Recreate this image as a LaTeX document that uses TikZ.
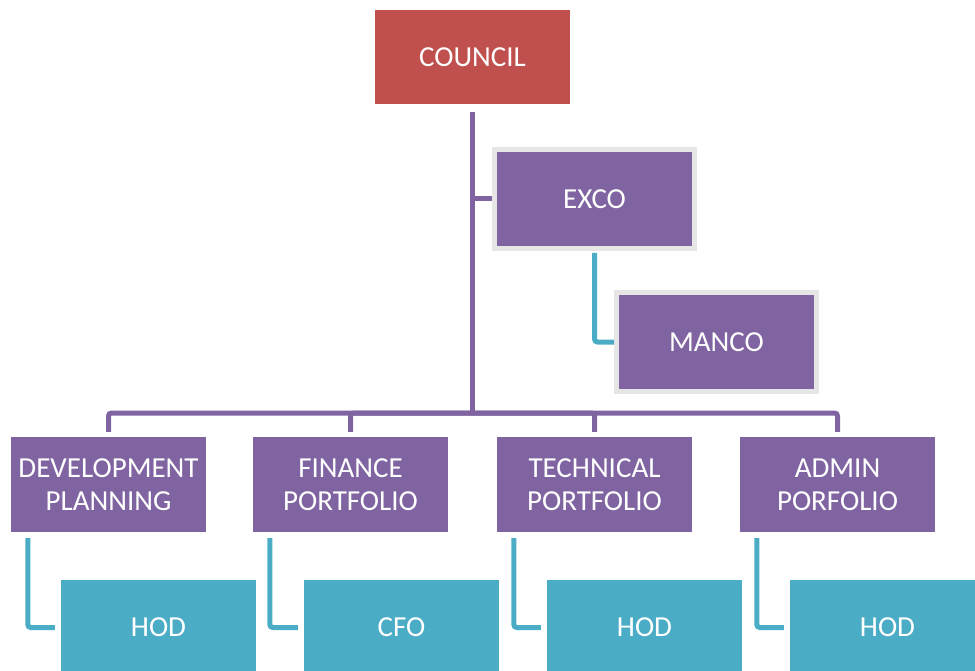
\documentclass[tikz,border=0pt]{standalone}
\usepackage{fontspec}
\setmainfont{Carlito}
\usetikzlibrary{positioning,calc}
\definecolor{cCouncil}{HTML}{C0504D}
\definecolor{cPortfolio}{HTML}{8064A2}
\definecolor{cStaff}{HTML}{4BACC6}
\definecolor{cFrame}{HTML}{E6E6E6}

\tikzset{
  unitbox/.style={fill=cPortfolio,text=white,align=center,inner sep=0pt,
                  minimum width=195,minimum height=95,
                  font=\fontsize{29}{33}\selectfont},
  framedbox/.style={unitbox,draw=cFrame,line width=5,minimum width=200,minimum height=99},
  staffbox/.style={unitbox,fill=cStaff},
  linkline/.style={draw=cPortfolio,line width=5,rounded corners=3},
  stafflink/.style={draw=cStaff,line width=5,rounded corners=3}
}

\begin{document}
\begin{tikzpicture}[x=1pt,y=-1pt]
  \useasboundingbox (0,0) rectangle (975,671);
  \clip (0,0) rectangle (975,671);

  % top of the chart
  \node[unitbox,fill=cCouncil,minimum height=94] (council) at (472.5,57) {COUNCIL};
  \node[framedbox] (exco) at (594.5,199) {EXCO};
  \node[framedbox] (manco) at (716.5,342) {MANCO};
  \coordinate (bus) at (472,413);

  % portfolios
  \node[unitbox] (dev) at (108.5,484.5) {DEVELOPMENT\\PLANNING};
  \node[unitbox] (fin) at (350.5,484.5) {FINANCE\\PORTFOLIO};
  \node[unitbox] (tech) at (594.5,484.5) {TECHNICAL\\PORTFOLIO};
  \node[unitbox] (admin) at (837.5,484.5) {ADMIN\\PORFOLIO};

  % staff under each portfolio
  \node[staffbox] (hoddev) at (158.5,627.5) {HOD};
  \node[staffbox] (cfo) at (401.5,627.5) {CFO};
  \node[staffbox] (hodtech) at (644.5,627.5) {HOD};
  \node[staffbox] (hodadmin) at (887.5,627.5) {HOD};

  % trunk, side branch and bus
  \draw[linkline,shorten <=8] (council) -- (council |- bus);
  \draw[linkline] (exco.west) -- (exco.west -| council);
  \foreach \unit in {dev,fin,tech,admin}
    \draw[linkline,shorten >=5] (bus) -| (\unit.north);

  \draw[stafflink,shorten <=2] (exco.south) |- (manco.west);
  \foreach \unit/\staff in {dev/hoddev,fin/cfo,tech/hodtech,admin/hodadmin}
    \draw[stafflink,shorten <=6,shorten >=6] ([xshift=17]\unit.south west) |- (\staff.west);
\end{tikzpicture}
\end{document}
